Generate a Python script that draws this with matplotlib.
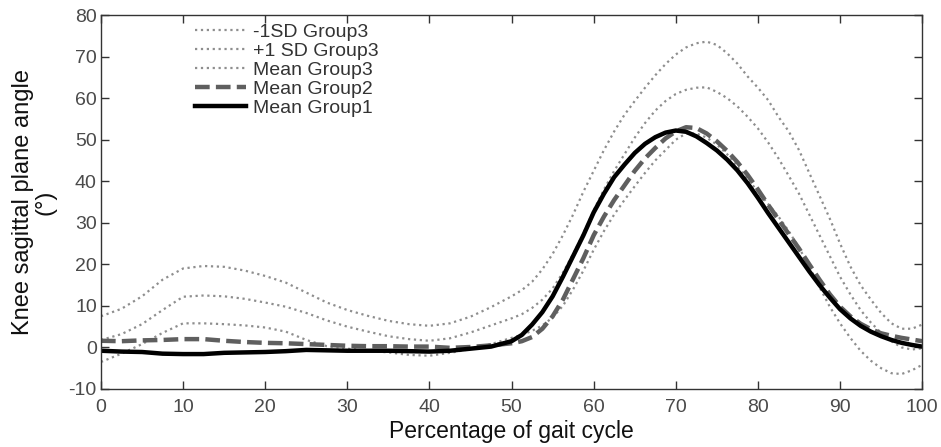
import matplotlib
matplotlib.use("Agg")
import matplotlib.pyplot as plt

plt.rcParams['font.family'] = ['Liberation Sans', 'DejaVu Sans']
plt.rcParams['axes.unicode_minus'] = False

x = [0, 2.5, 5, 7.5, 10, 12.5, 15, 17.5, 20, 22.5, 25, 27.5, 30, 32.5, 35, 37.5,
     40, 42.5, 45, 47.5,
     50, 51.25, 52.5, 53.75, 55, 56.25, 57.5, 58.75, 60, 61.25, 62.5, 63.75,
     65, 66.25, 67.5, 68.75, 70, 71.25, 72.5, 73.75, 75, 76.25, 77.5, 78.75,
     80, 81.25, 82.5, 83.75, 85, 86.25, 87.5, 88.75, 90, 91.25, 92.5, 93.75,
     95, 96.25, 97.5, 98.75, 100]

sd_minus_g3 = [-3.5, -1.5, 0.8, 3.5, 5.8, 5.8, 5.6, 5.3, 4.8, 3.8, 1.8, 0.3, -0.3,
               -0.8, -1.2, -1.8, -2.0, -1.3, -0.4, 0.8,
               2.3, 3.0, 4.0, 5.3, 7.2, 10.0, 14.0, 18.5, 23.5, 28.0, 32.0, 35.5,
               38.8, 42.0, 45.0, 47.5, 50.0, 51.5, 51.5, 50.5, 48.8, 46.5, 43.5,
               40.5, 37.5, 34.5, 31.5, 28.0, 24.0, 19.5, 14.5, 9.8, 5.8, 2.3, -0.8,
               -3.2, -5.0, -6.2, -6.4, -5.5, -4.2]
sd_plus_g3 = [7.5, 9.3, 12.3, 16.3, 19.0, 19.6, 19.4, 18.5, 17.2, 15.6, 13.2, 10.8,
              9.0, 7.6, 6.4, 5.6, 5.2, 5.8, 7.4, 9.7,
              12.3, 13.8, 15.8, 18.8, 22.5, 27.0, 32.0, 37.5, 42.5, 47.5, 52.0,
              56.0, 59.3, 62.5, 65.5, 68.2, 70.5, 72.2, 73.2, 73.6, 72.8, 70.8,
              68.3, 65.2, 62.5, 59.5, 55.5, 52.0, 47.5, 42.0, 36.5, 31.0, 25.0,
              19.5, 15.0, 11.5, 8.3, 5.8, 4.5, 4.5, 5.5]
mean_g3 = [1.8, 3.2, 5.6, 9.0, 12.2, 12.5, 12.3, 11.7, 10.8, 9.8, 8.3, 6.5, 5.0,
           3.8, 2.7, 2.0, 1.6, 2.2, 3.6, 5.3,
           7.0, 8.0, 9.5, 11.5, 14.2, 18.0, 22.5, 27.5, 33.0, 38.0, 42.5, 46.5,
           50.5, 54.0, 57.0, 59.3, 61.0, 62.0, 62.5, 62.6, 61.5, 60.0, 58.0, 55.5,
           52.7, 49.3, 45.5, 41.3, 37.0, 32.0, 27.0, 22.0, 17.0, 12.8, 9.0, 6.0,
           3.5, 1.5, 0.0, -0.5, -0.2]
mean_g2 = [1.6, 1.5, 1.7, 1.8, 2.0, 2.0, 1.6, 1.3, 1.1, 1.0, 0.8, 0.6, 0.4, 0.3,
           0.3, 0.2, 0.2, -0.1, 0.1, 0.5,
           1.0, 1.5, 2.5, 4.5, 7.5, 11.5, 16.5, 21.5, 27.0, 31.5, 35.5, 39.0,
           42.5, 45.5, 48.0, 50.3, 52.0, 53.0, 52.8, 51.5, 49.6, 47.3, 44.6, 41.5,
           38.0, 34.3, 30.8, 27.3, 23.8, 20.0, 16.3, 12.8, 9.8, 7.5, 5.7, 4.4,
           3.4, 2.8, 2.3, 1.9, 1.5]
mean_g1 = [-0.8, -1.0, -1.1, -1.5, -1.6, -1.6, -1.3, -1.2, -1.1, -0.9, -0.6, -0.7,
           -0.8, -0.8, -0.8, -0.9, -1.0, -0.8, -0.3, 0.2,
           1.5, 3.0, 5.5, 8.5, 12.3, 17.0, 22.0, 27.0, 32.5, 37.0, 41.0, 44.0,
           46.8, 49.0, 50.6, 51.7, 52.2, 51.9, 50.8, 49.2, 47.4, 45.2, 42.6, 39.5,
           36.0, 32.3, 28.8, 25.3, 21.8, 18.3, 15.0, 12.0, 9.2, 7.0, 5.2, 3.8,
           2.7, 1.8, 1.1, 0.6, 0.2]

labels = ["-1SD Group3", "+1 SD Group3", "Mean Group3", "Mean Group2", "Mean Group1"]
xticks = list(range(0, 101, 10))
yticks = list(range(-10, 81, 10))

fig = plt.figure(figsize=(9.41, 4.47), dpi=100)
ax = fig.add_axes([0.1073, 0.1298, 0.8727, 0.8366])

dot_c = '#8e8e8e'
ax.plot(x, sd_minus_g3, linestyle=':', color=dot_c, lw=1.6, label=labels[0])
ax.plot(x, sd_plus_g3, linestyle=':', color=dot_c, lw=1.6, label=labels[1])
ax.plot(x, mean_g3, linestyle=':', color=dot_c, lw=1.6, label=labels[2])
ax.plot(x, mean_g2, linestyle=(0, (3.3, 1.4)), color='#5f5f5f', lw=3.2, label=labels[3])
ax.plot(x, mean_g1, linestyle='-', color='black', lw=3.2, label=labels[4])

ax.set_xlim(0, 100)
ax.set_ylim(-10, 80)
ax.set_xticks(xticks)
ax.set_yticks(yticks)
ax.tick_params(direction='in', top=True, right=True, length=6, width=1,
               labelsize=14, colors='#333333', labelcolor='#4a4a4a')
ax.tick_params(axis='x', pad=7)
ax.tick_params(axis='y', pad=3)
for s in ax.spines.values():
    s.set_color('#333333')
    s.set_linewidth(1.0)

ax.set_xlabel("Percentage of gait cycle", fontsize=16.5, color='#111111')
ax.xaxis.set_label_coords(0.5, -0.083)
ax.set_ylabel("Knee sagittal plane angle\n(°)", fontsize=17, color='#111111',
              linespacing=1.05)
ax.yaxis.set_label_coords(-0.054, 0.5)

leg = ax.legend(loc='upper left', bbox_to_anchor=(0.1145, 0.978), frameon=False,
                fontsize=14, handlelength=2.6, handletextpad=0.38,
                labelspacing=0.07, borderaxespad=0.0, borderpad=0.0)
for t in leg.get_texts():
    t.set_color('#333333')

fig.savefig("out.png", dpi=100)
